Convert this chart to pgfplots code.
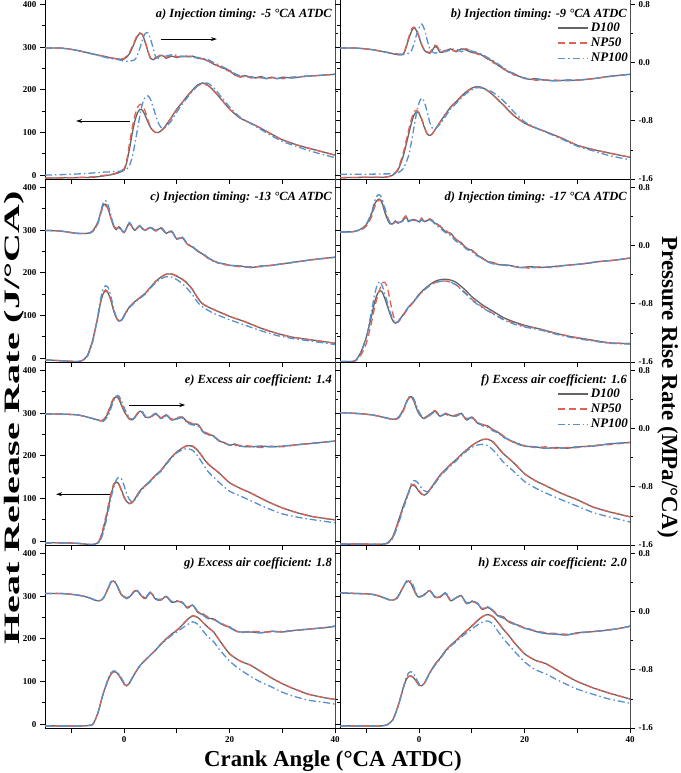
\documentclass[border=0pt]{standalone}
\usepackage{pgfplots}
\usepackage{pgfplotstable}
\usepackage{graphicx}
\pgfplotsset{compat=1.18}
\usetikzlibrary{arrows.meta}
\usepackage{fontspec}
\setmainfont{Liberation Serif}

\definecolor{cD}{RGB}{100,100,100}
\definecolor{cN5}{RGB}{222,98,86}
\definecolor{cN1}{RGB}{86,144,206}

\tikzset{
  ttl/.style={anchor=north east, inner sep=0pt, xshift=-3pt, yshift=-13pt,
    font=\fontsize{12.5}{14}\selectfont\bfseries\itshape},
  arr/.style={-{Stealth[length=6pt,width=4pt]}, line width=0.8pt, black},
}
\pgfplotsset{
  dD/.style={cD, solid, line width=1.3pt},
  dN5/.style={cN5, dash pattern=on 7pt off 4pt, line width=1.3pt},
  dN1/.style={cN1, dash pattern=on 7pt off 3pt on 1.5pt off 3pt, line width=1.3pt},
  base/.style={scale only axis, width=290pt, height=183pt, xmin=-15, xmax=40,
    anchor=south west, tick align=outside, major tick length=5pt, minor tick length=3pt,
    every tick/.style={black, line width=0.8pt},
    axis line style={line width=0.9pt},
    ticklabel style={font=\fontsize{9}{10}\selectfont\bfseries},
    /pgf/number format/assume math mode=true},
  hrr/.style={base, ymin=-9, ymax=420, axis y line*=left, axis x line*=bottom,
    ytick={0,100,200,300,400}, yticklabels={0,100,200,300,400},
    minor ytick={50,150,250,350},
    xtick={-10,0,10,20,30,40}, xticklabels={,0,,20,,40}},
  prr/.style={base, ymin=-1.6, ymax=0.917, axis y line*=right, axis x line=none,
    ytick={-1.6,-0.8,0,0.8}, yticklabels={-1.6,-0.8,0.0,0.8},
    minor ytick={-1.2,-0.4,0.4},
    y axis line style={black!70, line width=1pt}},
  leg/.style={legend entries={D100,NP50,NP100}, legend cell align=left,
    legend style={draw=none, fill=none, at={(1,0.865)}, anchor=north east,
      font=\fontsize{13}{15}\selectfont\bfseries\itshape, row sep=1pt, inner sep=0pt},
    legend image code/.code={\draw[#1] (0pt,0pt) -- (30pt,0pt);}},
}

% ---------------- panel a ----------------
\pgfplotstableread{
x D N5 N1
-15 -7 -7 0
-10 -6 -6 2
-6 -5 -4 5
-4 -2 -1 7
-2 2 3 8
-1 6 8 9
0 12 15 11
0.5 30 35 14
1 60 72 22
1.5 95 108 40
2 125 138 70
2.5 145 158 105
3 154 166 140
3.5 152 164 168
4 140 150 183
4.5 125 130 186
5 112 114 178
5.5 104 105 160
6 100 100 140
6.5 100 100 122
7 104 103 112
7.5 110 109 110
8 118 117 114
9 136 135 128
10 155 154 148
11 170 170 166
12 186 185 182
13 200 199 197
14 212 210 210
15 216 214 217
16 210 209 215
17 198 198 205
18 184 184 190
20 155 155 160
22 134 134 136
25 116 116 114
28 96 96 92
30 83 83 79
33 70 70 66
36 60 60 54
40 47 47 41
}\tHa
\pgfplotstableread{
x D N5 N1
-15 0.20 0.20 0.20
-12 0.20 0.20 0.20
-9 0.17 0.17 0.17
-6 0.12 0.12 0.12
-4 0.09 0.09 0.08
-2 0.06 0.06 0.05
-1 0.05 0.05 0.04
0 0.05 0.06 0.02
1 0.12 0.14 0.02
2 0.28 0.30 0.04
2.5 0.36 0.38 0.10
3 0.40 0.41 0.20
3.5 0.38 0.39 0.32
4 0.28 0.29 0.40
4.5 0.16 0.17 0.41
5 0.06 0.07 0.33
5.5 0.04 0.05 0.20
6 0.06 0.07 0.08
6.5 0.08 0.09 0.06
7 0.10 0.11 0.09
7.5 0.09 0.09 0.11
8 0.06 0.07 0.09
9 0.09 0.10 0.11
10 0.07 0.08 0.10
11 0.09 0.09 0.08
12 0.08 0.09 0.09
13 0.09 0.08 0.07
14 0.06 0.07 0.07
15 0.05 0.05 0.06
16 0.02 0.02 0.04
17 -0.02 -0.02 0.00
18 -0.05 -0.05 -0.03
19 -0.08 -0.09 -0.07
20 -0.11 -0.12 -0.10
21 -0.17 -0.16 -0.15
22 -0.19 -0.20 -0.18
23 -0.18 -0.18 -0.20
24 -0.20 -0.21 -0.19
25 -0.21 -0.20 -0.21
26 -0.19 -0.21 -0.20
27 -0.22 -0.21 -0.22
28 -0.20 -0.21 -0.20
29 -0.22 -0.20 -0.22
30 -0.20 -0.22 -0.21
32 -0.21 -0.20 -0.20
34 -0.19 -0.19 -0.19
36 -0.18 -0.18 -0.18
38 -0.17 -0.17 -0.17
40 -0.16 -0.16 -0.16
}\tPa

% ---------------- panel b ----------------
\pgfplotstableread{
x D N5 N1
-15 -6 -6 2
-10 -5 -5 2
-7 -5 -5 3
-6 -4 -4 3
-5 0 0 4
-4 12 15 6
-3 45 52 15
-2 95 105 45
-1.5 120 130 75
-1 140 148 110
-0.5 148 152 145
0 145 146 170
0.5 130 132 181
1 112 114 172
1.5 97 98 150
2 93 93 125
2.5 97 97 110
3 106 106 108
4 125 124 120
5 143 142 138
6 160 159 156
7 172 171 168
8 185 184 181
9 196 195 192
10 204 203 200
11 208 207 205
12 205 205 204
13 198 198 200
14 188 189 194
15 176 177 185
16 164 165 174
17 151 152 162
18 139 140 148
20 122 122 125
22 111 111 112
24 102 102 101
27 87 87 85
30 70 70 68
33 60 60 57
36 52 52 46
40 42 42 36
}\tHb
\pgfplotstableread{
x D N5 N1
-15 0.20 0.20 0.20
-12 0.20 0.20 0.20
-9 0.18 0.18 0.18
-6 0.14 0.14 0.14
-4 0.11 0.12 0.11
-3 0.12 0.13 0.11
-2.5 0.20 0.22 0.12
-2 0.32 0.34 0.13
-1.5 0.42 0.45 0.16
-1 0.48 0.49 0.25
-0.5 0.44 0.45 0.38
0 0.35 0.36 0.48
0.5 0.24 0.25 0.53
1 0.17 0.18 0.46
1.5 0.14 0.15 0.32
2 0.13 0.14 0.20
2.5 0.17 0.19 0.15
3 0.22 0.24 0.13
3.5 0.20 0.22 0.14
4 0.14 0.15 0.18
5 0.16 0.17 0.15
6 0.19 0.17 0.18
7 0.15 0.16 0.19
8 0.19 0.18 0.15
9 0.17 0.19 0.18
10 0.14 0.15 0.16
11 0.13 0.12 0.14
12 0.10 0.09 0.11
13 0.05 0.06 0.07
14 0.02 0.00 0.03
15 -0.04 -0.03 -0.02
16 -0.08 -0.09 -0.07
17 -0.13 -0.12 -0.12
18 -0.15 -0.17 -0.15
19 -0.19 -0.18 -0.20
20 -0.21 -0.22 -0.21
21 -0.23 -0.22 -0.23
22 -0.22 -0.24 -0.23
24 -0.24 -0.24 -0.24
26 -0.25 -0.24 -0.25
28 -0.24 -0.25 -0.24
30 -0.24 -0.24 -0.24
33 -0.22 -0.22 -0.22
36 -0.19 -0.19 -0.19
40 -0.16 -0.16 -0.16
}\tPb

% ---------------- panel c ----------------
\pgfplotstableread{
x D N5 N1
-15 -4 -4 -4
-12 -6 -6 -6
-9 -8 -8 -8
-8 -6 -6 -6
-7 5 4 3
-6 40 38 36
-5 95 95 98
-4.5 128 130 136
-4 150 152 162
-3.5 158 160 170
-3 152 154 165
-2.5 135 137 145
-2 112 114 118
-1.5 95 96 97
-1 87 88 87
-0.5 89 89 88
0 100 100 98
1 120 120 118
2 132 132 130
3 142 142 140
4 152 152 150
5 166 166 164
6 180 180 177
7 190 190 186
8 197 197 191
9 197 198 190
10 192 193 184
11 185 186 175
12 175 176 163
13 160 161 148
14 140 141 130
15 126 127 119
17 114 114 105
20 98 98 90
23 85 85 77
26 70 70 64
29 58 58 53
32 49 49 46
36 42 42 39
40 35 35 32
}\tHc
\pgfplotstableread{
x D N5 N1
-15 0.21 0.21 0.21
-12 0.20 0.20 0.20
-9 0.17 0.17 0.17
-7 0.17 0.17 0.17
-6 0.20 0.20 0.19
-5 0.32 0.30 0.30
-4.5 0.44 0.42 0.45
-4 0.55 0.53 0.58
-3.5 0.57 0.55 0.62
-3 0.50 0.50 0.55
-2.5 0.38 0.38 0.42
-2 0.27 0.28 0.29
-1.5 0.22 0.24 0.23
-1 0.26 0.25 0.24
-0.5 0.22 0.21 0.22
0 0.18 0.18 0.19
0.5 0.25 0.24 0.24
1 0.31 0.30 0.32
1.5 0.26 0.26 0.27
2 0.21 0.22 0.22
2.5 0.24 0.24 0.25
3 0.27 0.28 0.27
3.5 0.23 0.24 0.23
4 0.21 0.21 0.21
5 0.25 0.26 0.25
6 0.21 0.20 0.20
7 0.24 0.25 0.24
8 0.17 0.18 0.17
9 0.20 0.19 0.20
10 0.09 0.10 0.09
11 0.11 0.11 0.12
12 0.02 0.02 0.03
13 -0.02 -0.02 -0.01
14 -0.08 -0.07 -0.08
15 -0.12 -0.12 -0.11
16 -0.17 -0.18 -0.17
17 -0.21 -0.21 -0.22
18 -0.24 -0.24 -0.24
19 -0.25 -0.26 -0.25
20 -0.27 -0.27 -0.27
22 -0.28 -0.29 -0.28
24 -0.30 -0.29 -0.30
26 -0.28 -0.29 -0.28
28 -0.27 -0.27 -0.27
30 -0.25 -0.25 -0.25
33 -0.22 -0.22 -0.22
36 -0.19 -0.19 -0.19
40 -0.16 -0.16 -0.16
}\tPc

% ---------------- panel d ----------------
\pgfplotstableread{
x D N5 N1
-15 -8 -8 -8
-13 -8 -8 -8
-12 -5 -6 -5
-11 15 8 14
-10 50 35 48
-9 100 85 112
-8.5 128 115 145
-8 148 140 170
-7.5 158 160 180
-7 155 176 170
-6.5 140 178 150
-6 122 165 130
-5.5 103 135 108
-5 88 105 92
-4.5 82 86 83
-4 86 84 86
-3 102 100 102
-2 120 118 120
-1 133 132 133
0 150 148 148
1 162 160 160
2 172 170 170
3 180 177 177
4 184 180 180
5 185 181 181
6 183 178 178
7 178 172 172
8 168 162 160
9 157 151 149
10 144 138 136
12 125 120 118
14 110 105 104
16 95 91 90
18 85 82 80
20 77 75 73
23 68 68 66
26 58 58 56
29 50 50 48
32 44 43 42
36 36 36 35
40 34 34 33
}\tHd
\pgfplotstableread{
x D N5 N1
-15 0.19 0.19 0.19
-13 0.19 0.19 0.19
-12 0.20 0.20 0.20
-11 0.23 0.22 0.23
-10 0.29 0.27 0.30
-9 0.44 0.40 0.46
-8.5 0.56 0.52 0.60
-8 0.62 0.60 0.68
-7.5 0.64 0.63 0.70
-7 0.58 0.62 0.64
-6.5 0.46 0.52 0.50
-6 0.36 0.40 0.38
-5.5 0.30 0.32 0.31
-5 0.30 0.30 0.29
-4.5 0.34 0.33 0.34
-4 0.31 0.31 0.32
-3 0.35 0.37 0.34
-2.5 0.40 0.41 0.39
-2 0.34 0.35 0.33
-1 0.36 0.35 0.37
0 0.33 0.34 0.32
0.5 0.37 0.38 0.36
1 0.33 0.33 0.32
2 0.36 0.37 0.36
3 0.31 0.32 0.30
4 0.27 0.26 0.24
5 0.19 0.21 0.18
6 0.17 0.16 0.14
7 0.08 0.09 0.06
8 0.04 0.03 0.02
9 -0.04 -0.03 -0.05
10 -0.06 -0.07 -0.08
11 -0.13 -0.12 -0.14
12 -0.17 -0.18 -0.17
13 -0.22 -0.21 -0.22
14 -0.23 -0.24 -0.25
15 -0.26 -0.25 -0.26
17 -0.27 -0.28 -0.27
19 -0.30 -0.29 -0.30
21 -0.29 -0.31 -0.30
23 -0.30 -0.29 -0.30
25 -0.29 -0.30 -0.29
28 -0.27 -0.27 -0.27
31 -0.25 -0.25 -0.25
34 -0.22 -0.22 -0.22
37 -0.20 -0.20 -0.20
40 -0.17 -0.17 -0.17
}\tPd

% ---------------- panel e ----------------
\pgfplotstableread{
x D N5 N1
-15 -4 -4 -4
-12 -4 -4 -4
-9 -5 -5 -5
-6 -8 -8 -8
-5 -4 -4 -5
-4.5 5 8 2
-4 25 30 18
-3.5 50 56 42
-3 78 84 70
-2.5 108 112 100
-2 130 133 125
-1.5 139 139 143
-1 134 133 150
-0.5 120 118 146
0 104 102 130
0.5 93 92 110
1 88 88 98
1.5 90 90 92
2 98 98 96
3 118 118 115
4 130 130 128
5 142 142 140
6 155 155 153
7 166 166 164
8 182 182 180
9 197 197 195
10 209 209 207
11 218 218 214
12 224 225 217
13 222 223 213
14 212 213 199
15 195 196 180
16 180 181 162
18 160 160 138
20 137 137 117
22 124 124 106
24 113 113 95
27 94 94 78
30 78 78 64
33 66 66 56
36 57 57 50
40 50 50 43
}\tHe
\pgfplotstableread{
x D N5 N1
-15 0.20 0.20 0.20
-12 0.20 0.20 0.20
-9 0.19 0.19 0.19
-7 0.16 0.16 0.16
-5 0.12 0.12 0.12
-4 0.11 0.12 0.10
-3 0.22 0.24 0.18
-2.5 0.32 0.34 0.28
-2 0.40 0.42 0.38
-1.5 0.44 0.46 0.45
-1 0.41 0.44 0.45
-0.5 0.32 0.34 0.38
0 0.24 0.26 0.29
0.5 0.18 0.19 0.21
1 0.13 0.14 0.15
1.5 0.12 0.12 0.13
2 0.15 0.16 0.15
2.5 0.20 0.21 0.19
3 0.24 0.25 0.24
3.5 0.22 0.23 0.23
4 0.16 0.17 0.17
5 0.16 0.16 0.15
6 0.21 0.21 0.20
7 0.14 0.15 0.14
8 0.19 0.19 0.18
9 0.12 0.13 0.12
10 0.14 0.15 0.13
11 0.16 0.16 0.15
12 0.09 0.10 0.08
13 0.06 0.07 0.05
14 0.06 0.05 0.04
15 -0.04 -0.03 -0.05
16 -0.08 -0.07 -0.09
17 -0.10 -0.11 -0.11
18 -0.17 -0.16 -0.17
19 -0.19 -0.20 -0.19
20 -0.23 -0.22 -0.23
21 -0.21 -0.23 -0.22
22 -0.24 -0.23 -0.24
24 -0.25 -0.24 -0.25
26 -0.24 -0.26 -0.24
28 -0.25 -0.24 -0.25
30 -0.24 -0.25 -0.24
33 -0.22 -0.22 -0.22
36 -0.20 -0.20 -0.20
40 -0.17 -0.17 -0.17
}\tPe

% ---------------- panel f ----------------
\pgfplotstableread{
x D N5 N1
-15 -7 -7 -7
-10 -7 -7 -7
-7 -7 -7 -7
-6 -4 -5 -5
-5 10 8 6
-4 45 42 38
-3 82 80 76
-2 115 113 112
-1.5 130 130 134
-1 131 133 142
-0.5 125 127 140
0 116 118 133
0.5 110 111 124
1 108 108 118
1.5 112 112 116
2 120 120 119
3 138 138 135
4 155 155 152
5 168 168 165
6 180 180 177
7 191 191 188
8 203 203 200
9 214 214 211
10 224 224 220
11 232 232 225
12 238 238 227
13 239 239 224
14 233 233 214
15 219 219 200
16 205 205 185
18 183 183 163
20 158 158 140
22 142 142 125
24 130 130 113
27 112 112 97
30 97 97 82
33 80 80 67
36 69 69 57
40 57 57 45
}\tHf
\pgfplotstableread{
x D N5 N1
-15 0.22 0.22 0.22
-12 0.21 0.21 0.21
-9 0.19 0.19 0.19
-7 0.16 0.16 0.16
-5 0.13 0.13 0.13
-4 0.15 0.14 0.14
-3 0.26 0.24 0.25
-2.5 0.35 0.34 0.35
-2 0.42 0.41 0.43
-1.5 0.44 0.44 0.45
-1 0.38 0.39 0.41
-0.5 0.28 0.30 0.32
0 0.20 0.21 0.23
0.5 0.16 0.17 0.17
1 0.14 0.15 0.15
2 0.19 0.20 0.18
3 0.24 0.25 0.23
4 0.17 0.18 0.17
5 0.21 0.20 0.21
6 0.18 0.17 0.18
7 0.18 0.19 0.17
8 0.21 0.20 0.20
9 0.12 0.13 0.14
10 0.16 0.15 0.15
11 0.08 0.09 0.10
12 0.05 0.06 0.04
13 0.04 0.03 0.02
14 -0.02 -0.01 -0.03
15 -0.05 -0.05 -0.06
16 -0.11 -0.10 -0.12
17 -0.15 -0.16 -0.15
18 -0.19 -0.18 -0.19
19 -0.21 -0.22 -0.22
20 -0.24 -0.23 -0.24
22 -0.25 -0.26 -0.25
24 -0.27 -0.25 -0.27
26 -0.26 -0.27 -0.26
28 -0.27 -0.26 -0.27
30 -0.25 -0.26 -0.25
33 -0.24 -0.23 -0.24
36 -0.21 -0.22 -0.21
40 -0.19 -0.19 -0.19
}\tPf

% ---------------- panel g ----------------
\pgfplotstableread{
x D N5 N1
-15 -4 -4 -4
-10 -4 -4 -4
-8 -4 -4 -4
-6 -1 -1 -1
-5 25 25 25
-4 70 70 70
-3 105 105 108
-2.5 117 117 120
-2 123 123 125
-1.5 122 122 124
-1 115 115 117
-0.5 105 105 108
0 94 94 97
0.5 90 90 92
1 96 96 97
2 118 118 118
3 137 137 137
4 150 150 150
5 162 162 162
6 174 174 174
7 188 188 187
8 200 200 198
9 211 211 208
10 220 220 216
11 232 232 225
12 245 245 233
13 254 254 240
14 250 250 234
15 238 238 218
16 226 226 204
17 216 216 193
18 198 198 176
20 165 165 148
22 148 148 128
24 138 138 112
26 123 123 98
28 108 108 87
30 95 95 75
32 84 84 66
35 70 70 56
38 62 62 51
40 58 58 47
}\tHg
\pgfplotstableread{
x D N5 N1
-15 0.25 0.25 0.25
-12 0.25 0.25 0.25
-9 0.23 0.23 0.23
-7 0.20 0.20 0.20
-5 0.15 0.15 0.15
-4 0.18 0.18 0.18
-3 0.32 0.33 0.33
-2.5 0.40 0.41 0.41
-2 0.42 0.42 0.43
-1.5 0.38 0.38 0.39
-1 0.30 0.31 0.31
-0.5 0.23 0.24 0.24
0 0.20 0.21 0.21
0.5 0.18 0.19 0.18
1 0.20 0.21 0.20
2 0.28 0.29 0.28
2.5 0.29 0.29 0.29
3 0.24 0.24 0.25
4 0.18 0.19 0.19
5 0.26 0.26 0.27
6 0.17 0.18 0.18
7 0.16 0.17 0.16
8 0.21 0.20 0.21
9 0.13 0.14 0.14
10 0.14 0.15 0.15
11 0.13 0.12 0.13
12 0.05 0.06 0.06
13 0.09 0.09 0.09
14 -0.01 0.00 0.00
15 -0.04 -0.03 -0.05
16 -0.09 -0.08 -0.10
17 -0.10 -0.11 -0.11
18 -0.15 -0.14 -0.15
19 -0.19 -0.18 -0.19
20 -0.21 -0.22 -0.22
21 -0.26 -0.25 -0.26
22 -0.28 -0.29 -0.28
24 -0.28 -0.27 -0.28
26 -0.29 -0.28 -0.29
28 -0.27 -0.28 -0.27
30 -0.28 -0.27 -0.28
32 -0.26 -0.26 -0.26
35 -0.24 -0.24 -0.24
38 -0.22 -0.22 -0.22
40 -0.20 -0.20 -0.20
}\tPg

% ---------------- panel h ----------------
\pgfplotstableread{
x D N5 N1
-15 -4 -4 -4
-10 -4 -4 -4
-7 -4 -4 -4
-6 -1 -1 -1
-5 10 10 9
-4 42 42 40
-3 85 85 85
-2.5 103 103 108
-2 112 112 120
-1.5 113 113 123
-1 108 108 117
-0.5 100 100 106
0 91 91 94
0.5 90 90 91
1 96 96 96
2 120 120 118
3 140 140 138
4 155 155 153
5 172 172 170
6 185 185 183
7 196 196 193
8 208 208 204
9 219 219 214
10 230 230 223
11 242 242 232
12 252 252 239
13 257 257 242
14 252 252 235
15 238 238 217
16 222 222 200
17 208 208 186
18 192 192 172
20 165 165 146
22 150 150 128
24 142 142 118
26 128 128 105
28 113 113 93
30 100 100 82
33 85 85 70
36 73 73 59
40 59 59 49
}\tHh
\pgfplotstableread{
x D N5 N1
-15 0.26 0.26 0.26
-12 0.25 0.25 0.25
-9 0.24 0.24 0.24
-7 0.20 0.20 0.20
-5.5 0.16 0.16 0.16
-4.5 0.17 0.17 0.16
-4 0.21 0.21 0.20
-3 0.34 0.34 0.34
-2.5 0.40 0.40 0.41
-2 0.42 0.42 0.44
-1.5 0.38 0.39 0.42
-1 0.30 0.31 0.34
-0.5 0.23 0.24 0.25
0 0.20 0.20 0.21
1 0.23 0.24 0.23
2 0.29 0.29 0.29
3 0.20 0.20 0.21
4 0.20 0.21 0.20
5 0.25 0.25 0.26
6 0.15 0.16 0.16
7 0.19 0.19 0.19
8 0.22 0.21 0.22
9 0.11 0.12 0.12
10 0.14 0.14 0.15
11 0.12 0.11 0.12
12 0.03 0.04 0.04
13 0.06 0.06 0.07
14 0.01 0.02 0.01
15 -0.06 -0.05 -0.06
16 -0.08 -0.07 -0.09
17 -0.14 -0.13 -0.14
18 -0.17 -0.16 -0.17
19 -0.19 -0.20 -0.19
20 -0.23 -0.22 -0.23
21 -0.24 -0.25 -0.24
22 -0.27 -0.26 -0.27
24 -0.30 -0.29 -0.30
26 -0.31 -0.30 -0.31
28 -0.32 -0.31 -0.32
30 -0.29 -0.30 -0.29
32 -0.28 -0.28 -0.28
35 -0.26 -0.26 -0.26
38 -0.23 -0.23 -0.23
40 -0.20 -0.20 -0.20
}\tPh

% #1 x, #2 y, #3 HRR table, #4 PRR table, #5 title, #6 HRR opts, #7 PRR opts, #8 extra HRR content
\newcommand{\panel}[8]{%
\begin{axis}[hrr, at={(#1,#2)}, #6]
\addplot[dD, smooth, tension=0.35] table[x=x,y=D]{#3};
\addplot[dN5, smooth, tension=0.35] table[x=x,y=N5]{#3};
\addplot[dN1, smooth, tension=0.35] table[x=x,y=N1]{#3};
#8
\end{axis}
\begin{axis}[prr, at={(#1,#2)}, #7]
\addplot[dD, smooth, tension=0.55] table[x=x,y=D]{#4};
\addplot[dN5, smooth, tension=0.55] table[x=x,y=N5]{#4};
\addplot[dN1, smooth, tension=0.55] table[x=x,y=N1]{#4};
\node[ttl] at (rel axis cs:1,1) {#5};
\end{axis}}

\begin{document}
\begin{tikzpicture}
\panel{45pt}{594pt}{\tHa}{\tPa}{a) Injection timing: -5 °CA ATDC}{xticklabels={}}{yticklabels={}}{%
  \draw[arr] (axis cs:7.0,319) -- (axis cs:17.6,319);
  \draw[arr] (axis cs:1.1,127) -- (axis cs:-9.1,127);}
\panel{340pt}{594pt}{\tHb}{\tPb}{b) Injection timing: -9 °CA ATDC}{xticklabels={},yticklabels={}}{leg}{}
\panel{45pt}{411pt}{\tHc}{\tPc}{c) Injection timing: -13 °CA ATDC}{xticklabels={}}{yticklabels={}}{}
\panel{340pt}{411pt}{\tHd}{\tPd}{d) Injection timing: -17 °CA ATDC}{xticklabels={},yticklabels={}}{}{}
\panel{45pt}{228pt}{\tHe}{\tPe}{e) Excess air coefficient: 1.4}{xticklabels={}}{yticklabels={}}{%
  \draw[arr] (axis cs:0.9,319) -- (axis cs:11.6,319);
  \draw[arr] (axis cs:-2.7,110) -- (axis cs:-12.9,110);}
\panel{340pt}{228pt}{\tHf}{\tPf}{f) Excess air coefficient: 1.6}{xticklabels={},yticklabels={}}{leg}{}
\panel{45pt}{45pt}{\tHg}{\tPg}{g) Excess air coefficient: 1.8}{}{yticklabels={}}{}
\panel{340pt}{45pt}{\tHh}{\tPh}{h) Excess air coefficient: 2.0}{yticklabels={}}{}{}

\node[rotate=90, anchor=base, font=\fontsize{22}{26}\selectfont\bfseries] at (20pt,355pt)
  {\scalebox{1.82}[1]{Heat Release Rate (J/°CA)}};
\node[rotate=-90, anchor=base, font=\fontsize{23}{27}\selectfont\bfseries] at (662pt,386pt)
  {Pressure Rise Rate (MPa/°CA)};
\node[anchor=base, font=\fontsize{22.8}{27}\selectfont\bfseries] at (333pt,6pt)
  {Crank Angle (°CA ATDC)};

\pgfresetboundingbox
\path[use as bounding box] (0pt,0pt) rectangle (680pt,773pt);
\end{tikzpicture}
\end{document}
